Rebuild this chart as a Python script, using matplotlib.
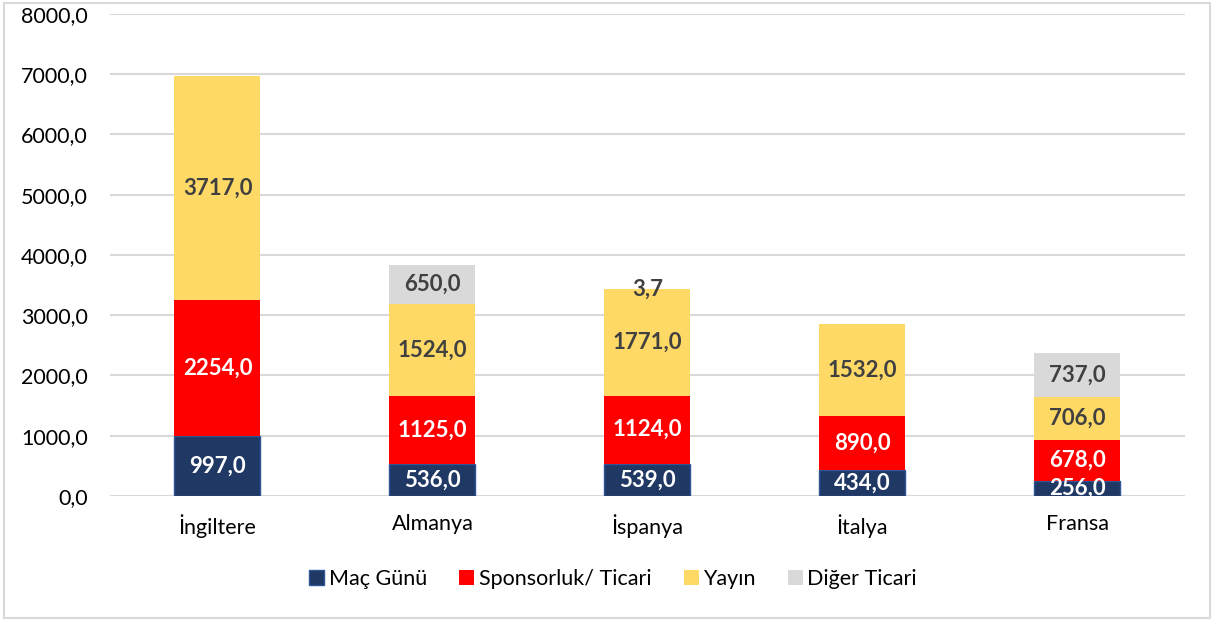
import matplotlib
matplotlib.use("Agg")
import matplotlib.pyplot as plt
from matplotlib.patches import Rectangle
import numpy as np

plt.rcParams['font.family'] = ['Lato', 'DejaVu Sans']

countries = ["İngiltere", "Almanya", "İspanya", "İtalya", "Fransa"]
mac_gunu = [997.0, 536.0, 539.0, 434.0, 256.0]
sponsorluk = [2254.0, 1125.0, 1124.0, 890.0, 678.0]
yayin = [3717.0, 1524.0, 1771.0, 1532.0, 706.0]
diger = [0.0, 650.0, 3.7, 0.0, 737.0]

series = [
    ("Maç Günü", mac_gunu, "#203864", "white"),
    ("Sponsorluk/ Ticari", sponsorluk, "#FF0000", "white"),
    ("Yayın", yayin, "#FFD966", "#404040"),
    ("Diğer Ticari", diger, "#D9D9D9", "#404040"),
]

fig = plt.figure(figsize=(12.14, 6.21), dpi=100)
ax = fig.add_axes([0.0906, 0.2013, 0.8855, 0.7762])

x = np.arange(len(countries))
bottom = np.zeros(len(countries))
for name, vals, color, tcol in series:
    vals = np.array(vals)
    edge = "#2F5597" if name == "Maç Günü" else color
    ax.bar(x, vals, 0.4, bottom=bottom, color=color, edgecolor=edge,
           linewidth=1.0 if name == "Maç Günü" else 0, label=name, zorder=3)
    for xi, v, b in zip(x, vals, bottom):
        if v <= 0:
            continue
        ax.text(xi, b + v / 2, f"{v:.1f}".replace(".", ","), ha="center", va="center",
                color=tcol, fontsize=16, fontweight="bold", zorder=4)
    bottom += vals

ax.set_xlim(-0.5, len(countries) - 0.5)
ax.set_ylim(0, 8000)
ax.set_yticks(np.arange(0, 8001, 1000))
ax.set_yticklabels([f"{t:.1f}".replace(".", ",") for t in np.arange(0, 8001, 1000)])
ax.set_xticks(x)
ax.set_xticklabels(countries)
ax.tick_params(length=0, labelsize=15.5, colors="black")
ax.tick_params(axis="x", pad=13)
ax.tick_params(axis="y", pad=16)
ax.grid(True, axis="y", color="#D9D9D9", lw=1.5, zorder=0)
for s in ax.spines.values():
    s.set_visible(False)

fig.legend(loc="center", bbox_to_anchor=(0.505, 0.068), ncol=4, frameon=False,
           fontsize=15.5, handlelength=0.7, handleheight=0.7, handletextpad=0.2,
           columnspacing=1.5)

fig.patches.append(Rectangle((0.003, 0.005), 0.994, 0.99, transform=fig.transFigure,
                             fill=False, edgecolor="#D9D9D9", lw=1.5))

fig.savefig("out.png", dpi=100)
